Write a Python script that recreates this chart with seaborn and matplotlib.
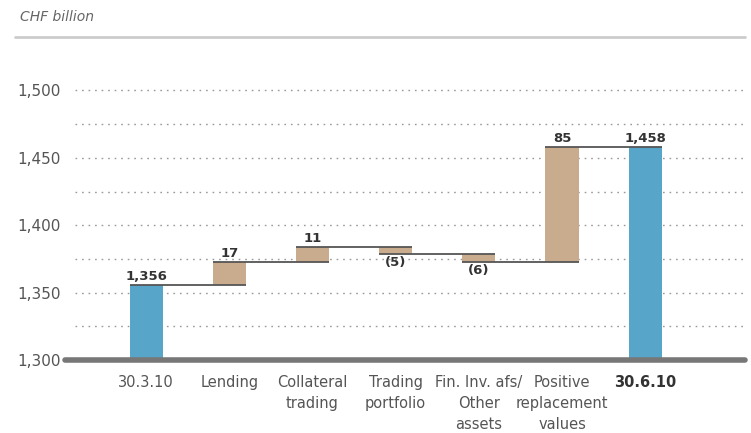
import numpy as np
import pandas as pd
import matplotlib
matplotlib.use("Agg")
import matplotlib.pyplot as plt
import seaborn as sns

# Data (CHF billion)
categories = ["30.3.10", "Lending", "Collateral\ntrading", "Trading\nportfolio",
              "Fin. Inv. afs/\nOther\nassets", "Positive\nreplacement\nvalues", "30.6.10"]
start_total = 1356
changes = [17, 11, -5, -6, 85]
end_total = 1458
value_labels = ["1,356", "17", "11", "(5)", "(6)", "85", "1,458"]

BLUE = "#57a5c9"
TAN = "#c9ab8e"

# Build waterfall tops / bottoms
levels = np.concatenate([[start_total], start_total + np.cumsum(changes)])
bottoms, tops = [0], [start_total]
for i, c in enumerate(changes):
    lo, hi = sorted([levels[i], levels[i + 1]])
    bottoms.append(lo)
    tops.append(hi)
bottoms.append(0)
tops.append(end_total)
colors = [BLUE] + [TAN] * len(changes) + [BLUE]

df = pd.DataFrame({"category": categories, "top": tops, "bottom": bottoms})

sns.set_style("white")
plt.rcParams["font.family"] = ["DejaVu Sans"]

fig = plt.figure(figsize=(7.51, 4.33), dpi=100)
ax = fig.add_axes([65 / 751, 73 / 433, 680 / 751, 283 / 433])

width = 0.4
sns.barplot(data=df, x="category", y="top", hue="category", palette=colors,
            legend=False, width=width, ax=ax, saturation=1)
# turn the bars into floating waterfall segments
for patch, b, t in zip(ax.patches, bottoms, tops):
    patch.set_y(b)
    patch.set_height(t - b)
    patch.set_edgecolor("none")

# connector lines from bar i to bar i+1
for i, lvl in enumerate(levels):
    ax.hlines(lvl, i - width / 2, i + 1 + width / 2, color="#555555", lw=1.3, zorder=3)

# value labels
for i, (lab, b, t) in enumerate(zip(value_labels, bottoms, tops)):
    if lab.startswith("("):
        ax.text(i, b - 1.5, lab, ha="center", va="top", fontsize=9.5,
                color="#333333", fontweight="bold")
    else:
        ax.text(i, t + 1.2, lab, ha="center", va="bottom", fontsize=9.5,
                color="#333333", fontweight="bold")

ax.set_ylim(1300, 1510)
ax.set_xlim(-0.976, 7.2)
ax.set_yticks(np.arange(1300, 1501, 25))
ax.set_yticklabels([f"{v:,}" if v % 50 == 0 else "" for v in range(1300, 1501, 25)],
                   fontsize=11, color="#555555")
ax.tick_params(axis="y", length=0, pad=3)
ax.tick_params(axis="x", length=0, pad=11)
ax.set_xticks(range(len(categories)))
ax.set_xticklabels(categories, fontsize=10.5, color="#555555", linespacing=1.5, va="top")
ax.get_xticklabels()[-1].set_fontweight("bold")
ax.get_xticklabels()[-1].set_color("#333333")
ax.set_xlabel("")
ax.set_ylabel("")

for v in np.arange(1325, 1501, 25):
    ax.axhline(v, xmin=10 / 680, color="#999999", lw=1, ls=(0, (1.2, 3.5)), zorder=0.5)
ax.axhline(1300, color="#777777", lw=4, zorder=4, clip_on=False)

for s in ax.spines.values():
    s.set_visible(False)

fig.text(20 / 751, 1 - 17 / 433, "CHF billion", fontsize=10, style="italic",
         color="#666666", va="center", ha="left")
fig.add_artist(plt.Line2D([15 / 751, 745 / 751], [1 - 37 / 433, 1 - 37 / 433],
                          color="#cccccc", lw=2))

fig.savefig("out.png", dpi=100)
